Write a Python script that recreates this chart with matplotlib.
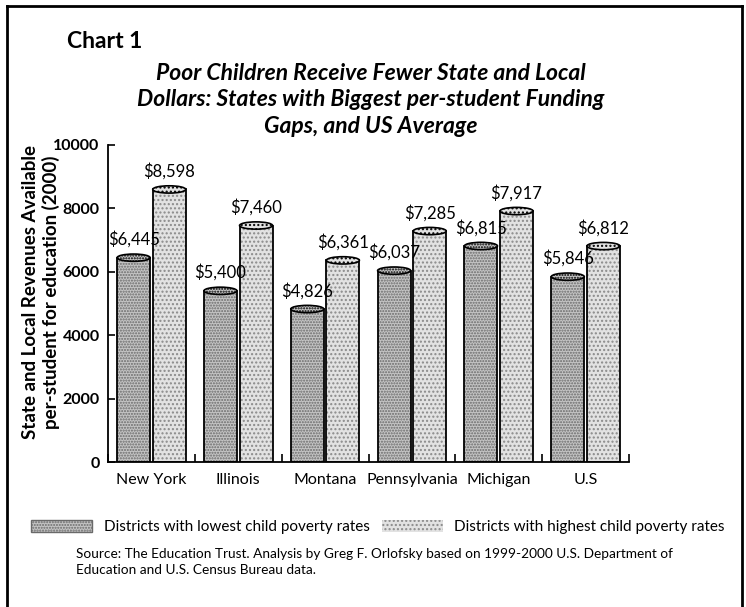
import matplotlib
matplotlib.use("Agg")
import matplotlib.pyplot as plt
from matplotlib.patches import Ellipse, Patch
from matplotlib.lines import Line2D
import numpy as np

plt.rcParams['font.family'] = ['Lato', 'DejaVu Sans']

states = ["New York", "Illinois", "Montana", "Pennsylvania", "Michigan", "U.S"]
lowest_poverty = [6445, 5400, 4826, 6037, 6815, 5846]
highest_poverty = [8598, 7460, 6361, 7285, 7917, 6812]
lowest_labels = ["$6,445", "$5,400", "$4,826", "$6,037", "$6,815", "$5,846"]
highest_labels = ["$8,598", "$7,460", "$6,361", "$7,285", "$7,917", "$6,812"]
yticks = [0, 2000, 4000, 6000, 8000, 10000]
series_names = ["Districts with lowest child poverty rates",
                "Districts with highest child poverty rates"]

W, H = 746, 607
fig = plt.figure(figsize=(W / 100, H / 100), dpi=100)
fig.patch.set_facecolor("white")
ax = fig.add_axes([108 / W, 1 - 462 / H, (629 - 108) / W, (462 - 145) / H])

x = np.arange(len(states))
bw = 0.38
offs = 0.205
styles = [dict(face="#c4c4c4", hatch_col="#6a6a6a", hatch="......"),
          dict(face="#e2e2e2", hatch_col="#8a8a8a", hatch="....")]

for vals, labels, sign, st in [(lowest_poverty, lowest_labels, -1, styles[0]),
                               (highest_poverty, highest_labels, 1, styles[1])]:
    xs = x + sign * offs
    ax.bar(xs, vals, width=bw, color=st["face"], edgecolor=st["hatch_col"],
           hatch=st["hatch"], linewidth=0, zorder=2)
    ax.bar(xs, vals, width=bw, fill=False, edgecolor="black", linewidth=1.3, zorder=3)
    for xi, v, lab in zip(xs, vals, labels):
        ax.add_patch(Ellipse((xi, v), bw, 230, facecolor=st["face"], edgecolor="black",
                             linewidth=1.2, hatch=st["hatch"], zorder=4))
        ax.annotate(lab, (xi, v), xytext=(0, 7), textcoords="offset points",
                    ha="center", va="bottom", fontsize=12, color="black", zorder=5)

ax.set_xlim(-0.5, 5.5)
ax.set_ylim(0, 10000)
ax.set_yticks(yticks)
ax.set_yticklabels([str(t) for t in yticks], fontsize=11.5, fontweight="bold")
ax.set_xticks(x)
ax.set_xticklabels(states, fontsize=11.5)
ax.set_xticks(np.arange(-0.5, 5.6, 1.0), minor=True)
ax.tick_params(axis="x", which="major", length=0, pad=8)
ax.tick_params(axis="x", which="minor", direction="in", length=6, width=1.2)
ax.tick_params(axis="y", direction="in", length=5, width=1.2, pad=6)
for s in ["top", "right"]:
    ax.spines[s].set_visible(False)
for s in ["left", "bottom"]:
    ax.spines[s].set_linewidth(1.3)

fig.text(41 / W, 1 - 292 / H,
         "State and Local Revenues Available\nper-student for education (2000)",
         rotation=90, ha="center", va="center", fontsize=13.5, fontweight="bold",
         linespacing=1.15)

fig.text(67 / W, 1 - 42 / H, "Chart 1", ha="left", va="center", fontsize=16.5,
         fontweight="bold")
fig.text(371 / W, 1 - 100 / H,
         "Poor Children Receive Fewer State and Local\n"
         "Dollars: States with Biggest per-student Funding\n"
         "Gaps, and US Average",
         ha="center", va="center", fontsize=16.5, fontweight="bold", style="italic",
         linespacing=1.3)

handles = [Patch(facecolor=styles[0]["face"], edgecolor="#6a6a6a", hatch="......", linewidth=1),
           Patch(facecolor=styles[1]["face"], edgecolor="#8a8a8a", hatch="....", linewidth=0)]
fig.legend(handles, series_names, loc="center", bbox_to_anchor=(378 / W, 1 - 527 / H),
           ncol=2, frameon=False, fontsize=11, handlelength=4.0, handleheight=0.9,
           handletextpad=0.75, columnspacing=0.8, borderpad=0, borderaxespad=0)

fig.text(76 / W, 1 - 562 / H,
         "Source: The Education Trust. Analysis by Greg F. Orlofsky based on 1999-2000 U.S. Department of\n"
         "Education and U.S. Census Bureau data.",
         ha="left", va="center", fontsize=9.8, linespacing=1.45)

# frame border (open at the bottom)
for xs_, ys_ in [([7, 7], [6, 607]), ([7, 742], [6, 6]), ([742, 742], [6, 607])]:
    fig.add_artist(Line2D([v / W for v in xs_], [1 - v / H for v in ys_],
                          color="black", linewidth=2, transform=fig.transFigure))

fig.savefig("out.png", dpi=100)
